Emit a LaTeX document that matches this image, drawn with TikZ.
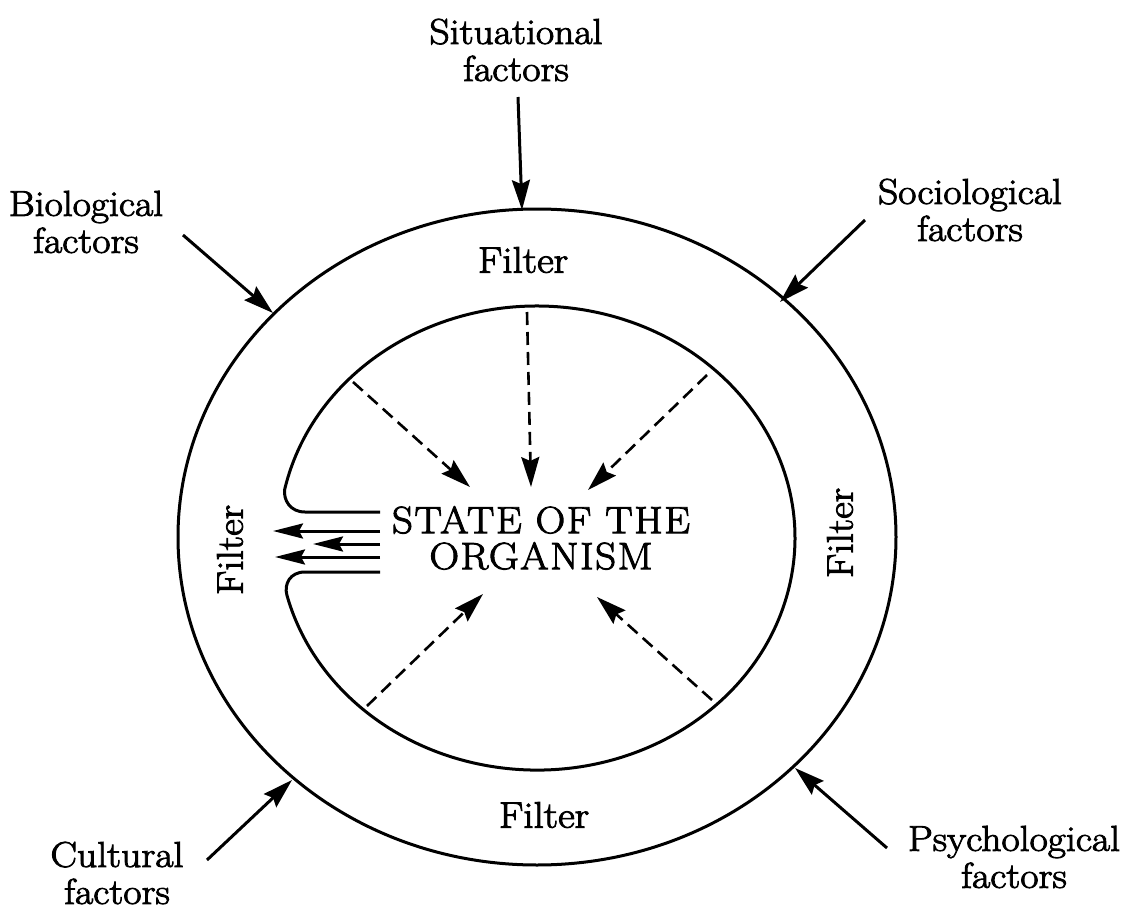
\documentclass[tikz,border=0pt]{standalone}
\usepackage{fontspec}
\newfontfamily\diagfont{Latin Modern Roman}[FakeStretch=1.1, FakeBold=2.5]
\newfontfamily\statefont{Latin Modern Roman}[FakeStretch=1.08, FakeBold=2.5, LetterSpace=4]
\usetikzlibrary{arrows.meta}
\begin{document}
\begin{tikzpicture}[x=0.5pt,y=-0.5pt,
  ringline/.style={line width=1.5pt},
  factor/.style={align=center, font=\diagfont\fontsize{18}{18.5}\selectfont, inner sep=0pt},
  filt/.style={font=\diagfont\fontsize{18.5}{20}\selectfont, inner sep=0pt},
  statelabel/.style={align=center, font=\statefont\fontsize{19}{18}\selectfont, inner sep=0pt},
  tip/.style={-{Stealth[length=15pt,width=9pt,inset=2pt]}},
  inarrow/.style={line width=1.5pt, tip},
  dasharrow/.style={line width=1.3pt, dash pattern=on 6.5pt off 3.5pt, tip},
  outarrow/.style={line width=1.5pt, -{Stealth[length=15pt,width=7.5pt,inset=2pt]}}
]
\useasboundingbox (0,0) rectangle (1126,921);

% outer ring
\draw[ringline] (537,537) ellipse [x radius=359, y radius=328];

% inner boundary with the opening on the left
\draw[ringline] (380,512) -- (305,512)
  .. controls (290,512) and (283.5,500) .. (284.6,489.8)
  arc[start angle=192, end angle=525.8, x radius=258, y radius=232]
  .. controls (284,584) and (290,572) .. (305,572) -- (380,572);

% labels
\node[factor] (sit) at (516,50) {Situational\\factors};
\node[factor] (bio) at (86,222) {Biological\\factors};
\node[factor] (soc) at (970,210) {Sociological\\factors};
\node[factor] (cul) at (117,873) {Cultural\\factors};
\node[factor] (psy) at (1014,857) {Psychological\\factors};

\node[filt] (ftop) at (523,260) {Filter};
\node[filt] (fbot) at (544,815) {Filter};
\node[filt, rotate=90] (fleft) at (230,550) {Filter};
\node[filt, rotate=90] (fright) at (840,533) {Filter};

\node[statelabel] (state) at (541,538) {STATE OF THE\\ORGANISM};

% external factor arrows
\coordinate (sitT) at (518,97);   \coordinate (sitH) at (522,210);
\coordinate (bioT) at (183,235);  \coordinate (bioH) at (273,313);
\coordinate (socT) at (865,220);  \coordinate (socH) at (780,302);
\coordinate (culT) at (207,860);  \coordinate (culH) at (292,780);
\coordinate (psyT) at (887,848);  \coordinate (psyH) at (795,768);
\draw[inarrow] (sitT) -- (sitH);
\draw[inarrow] (bioT) -- (bioH);
\draw[inarrow] (socT) -- (socH);
\draw[inarrow] (culT) -- (culH);
\draw[inarrow] (psyT) -- (psyH);

% dashed arrows toward the state
\coordinate (d1T) at (353,382); \coordinate (d1H) at (470,487);
\coordinate (d2T) at (527,312); \coordinate (d2H) at (531,487);
\coordinate (d3T) at (707,375); \coordinate (d3H) at (588,490);
\coordinate (d4T) at (367,706); \coordinate (d4H) at (483,594);
\coordinate (d5T) at (712,700); \coordinate (d5H) at (597,597);
\draw[dasharrow] (d1T) -- (d1H);
\draw[dasharrow] (d2T) -- (d2H);
\draw[dasharrow] (d3T) -- (d3H);
\draw[dasharrow] (d4T) -- (d4H);
\draw[dasharrow] (d5T) -- (d5H);

% outgoing arrows through the opening
\coordinate (o1T) at (380,531); \coordinate (o1H) at (273,531);
\coordinate (o2T) at (380,544); \coordinate (o2H) at (313,544);
\coordinate (o3T) at (380,557); \coordinate (o3H) at (275,557);
\draw[outarrow] (o1T) -- (o1H);
\draw[outarrow] (o2T) -- (o2H);
\draw[outarrow] (o3T) -- (o3H);
\end{tikzpicture}
\end{document}
